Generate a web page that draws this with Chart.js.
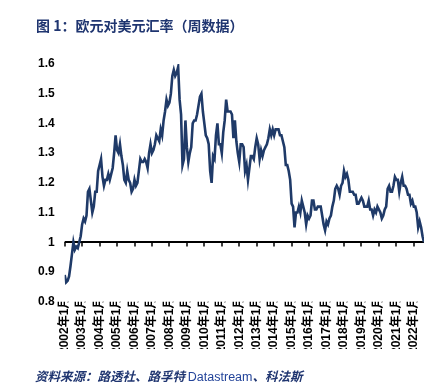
<!DOCTYPE html>
<html>
<head>
<meta charset="utf-8">
<script src="https://cdn.jsdelivr.net/npm/chart.js@4.4.0/dist/chart.umd.min.js"></script>
<style>
  body { margin: 0; background: #fff; }
  #wrap { position: relative; width: 447px; height: 387px; overflow: hidden; }
  #chart { position: absolute; left: 0; top: 0; }
  .title {
    position: absolute; left: 36px; top: 15px;
    font: bold 14px "Noto Sans CJK SC", sans-serif; color: #1f3570;
  }
  .source {
    position: absolute; left: 35px; top: 366px;
    font: italic bold 12.5px "Noto Sans CJK SC", sans-serif; color: #1f3570;
  }
  .source .en { font: 12.5px "Liberation Sans", Arial, sans-serif; color: #23449a; }
</style>
</head>
<body>
<div id="wrap">
  <canvas id="chart" width="447" height="387"></canvas>
  <div class="title">图 1：欧元对美元汇率（周数据）</div>
  <div class="source">资料来源：路透社、路孚特 <span class="en">Datastream</span>、科法斯</div>
</div>
<script>
// EUR/USD, monthly points, Jan 2002 .. Aug 2022
const startYear = 2002;
const rate = [
  0.89, 0.865, 0.87, 0.885, 0.92, 0.96, 1.00, 0.975, 0.985, 0.98, 1.00, 1.02,
  1.06, 1.08, 1.07, 1.09, 1.17, 1.18, 1.14, 1.10, 1.12, 1.17, 1.17, 1.24,
  1.26, 1.28, 1.22, 1.19, 1.21, 1.21, 1.23, 1.21, 1.23, 1.25, 1.30, 1.36,
  1.31, 1.30, 1.33, 1.29, 1.26, 1.21, 1.20, 1.24, 1.21, 1.20, 1.17, 1.18,
  1.21, 1.19, 1.20, 1.24, 1.28, 1.27, 1.27, 1.28, 1.27, 1.25, 1.30, 1.33,
  1.30, 1.31, 1.33, 1.36, 1.35, 1.34, 1.38, 1.36, 1.41, 1.44, 1.48, 1.46,
  1.47, 1.50, 1.56, 1.58, 1.56, 1.57, 1.59, 1.48, 1.43, 1.26, 1.28, 1.41,
  1.32, 1.27, 1.30, 1.32, 1.40, 1.41, 1.41, 1.43, 1.46, 1.49, 1.50, 1.44,
  1.40, 1.36, 1.35, 1.33, 1.24, 1.20, 1.29, 1.28, 1.36, 1.40, 1.33, 1.33,
  1.30, 1.37, 1.41, 1.48, 1.44, 1.44, 1.44, 1.43, 1.35, 1.41, 1.34, 1.30,
  1.27, 1.33, 1.33, 1.32, 1.24, 1.26, 1.21, 1.25, 1.29, 1.29, 1.28, 1.32,
  1.35, 1.33, 1.28, 1.31, 1.29, 1.31, 1.32, 1.33, 1.35, 1.38, 1.36, 1.38,
  1.36, 1.38, 1.38, 1.38, 1.36, 1.36, 1.34, 1.32, 1.26, 1.26, 1.24, 1.21,
  1.13, 1.12, 1.05, 1.10, 1.10, 1.12, 1.10, 1.14, 1.12, 1.10, 1.06, 1.09,
  1.08, 1.09, 1.14, 1.14, 1.11, 1.11, 1.12, 1.12, 1.12, 1.09, 1.06, 1.04,
  1.07, 1.06, 1.08, 1.09, 1.12, 1.14, 1.18, 1.19, 1.18, 1.16, 1.19, 1.20,
  1.24, 1.22, 1.23, 1.21, 1.17, 1.17, 1.17, 1.16, 1.16, 1.13, 1.13, 1.14,
  1.15, 1.14, 1.12, 1.12, 1.12, 1.14, 1.11, 1.11, 1.09, 1.11, 1.10, 1.12,
  1.11, 1.10, 1.08, 1.09, 1.11, 1.12, 1.18, 1.19, 1.17, 1.17, 1.19, 1.22,
  1.21, 1.21, 1.17, 1.20, 1.22, 1.19, 1.19, 1.18, 1.16, 1.16, 1.13, 1.14,
  1.12, 1.12, 1.10, 1.05, 1.07, 1.05, 1.02, 1.00
];
const yTicks = [0.8, 0.9, 1, 1.1, 1.2, 1.3, 1.4, 1.5, 1.6];
const crossAt = 1; // horizontal axis crosses the y axis here

const points = rate.map((v, i) => ({ x: startYear + i / 12, y: v }));
const xMax = startYear + (rate.length - 1) / 12;

// horizontal axis line at y = 1 with short tick marks for each year
const crossAxis = {
  id: 'crossAxis',
  beforeDatasetsDraw(chart) {
    const ctx = chart.ctx;
    const area = chart.chartArea;
    const xs = chart.scales.x;
    const py = Math.round(chart.scales.y.getPixelForValue(crossAt));
    ctx.save();
    ctx.fillStyle = '#000';
    ctx.fillRect(area.left, py - 1, area.right - area.left, 2);
    xs.ticks.forEach(t => {
      const px = Math.round(xs.getPixelForValue(t.value));
      ctx.fillRect(px - 0.75, py, 1.5, 4.5);
    });
    ctx.restore();
  }
};

new Chart(document.getElementById('chart'), {
  type: 'line',
  data: {
    datasets: [{
      data: points,
      borderColor: '#1f3a68',
      borderWidth: 2.6,
      pointRadius: 0,
      tension: 0,
      fill: false
    }]
  },
  options: {
    responsive: false,
    animation: false,
    events: [],
    layout: { padding: { left: 28, right: 23, top: 64, bottom: 38 } },
    plugins: { legend: { display: false }, tooltip: { enabled: false } },
    scales: {
      x: {
        type: 'linear',
        min: startYear,
        max: xMax,
        grid: { display: false, drawTicks: false },
        border: { display: false },
        ticks: {
          stepSize: 1,
          includeBounds: false,
          autoSkip: false,
          minRotation: 90,
          maxRotation: 90,
          padding: -5,
          color: '#000',
          font: { family: "'Liberation Sans', 'Noto Sans CJK SC'", size: 12, weight: 'bold' },
          callback: v => v + '年1月'
        }
      },
      y: {
        min: 0.8,
        max: 1.6,
        afterBuildTicks: s => { s.ticks = yTicks.map(v => ({ value: v })); },
        grid: { display: false, drawTicks: false },
        border: { display: false },
        ticks: {
          padding: 10,
          color: '#000',
          font: { family: "'Liberation Sans', Arial", size: 12, weight: 'bold' },
          callback: v => String(+v.toFixed(1))
        }
      }
    }
  },
  plugins: [crossAxis]
});
</script>
</body>
</html>
